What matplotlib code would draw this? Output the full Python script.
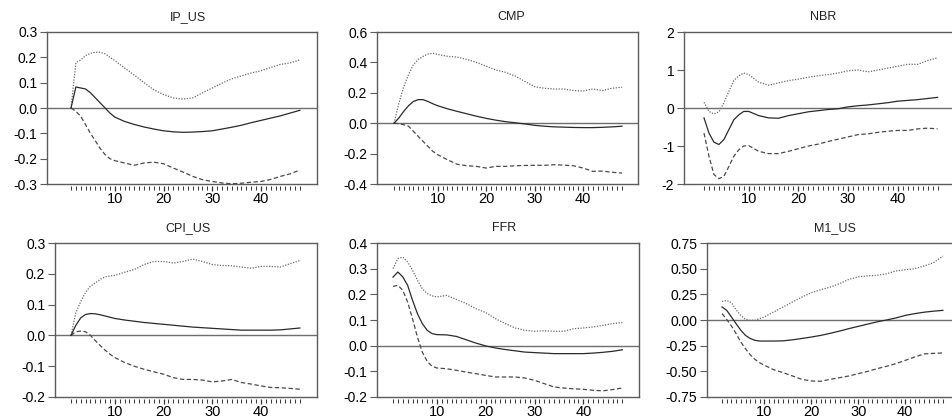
import numpy as np
import matplotlib
matplotlib.use('Agg')
import matplotlib.pyplot as plt
from matplotlib.ticker import FixedLocator

plt.rcParams['font.family'] = ['Liberation Sans', 'DejaVu Sans']
plt.rcParams['font.size'] = 10

# horizon (months) at which the responses were read
periods = [1, 2, 3, 4, 5, 6, 7, 8, 9, 10, 12, 14, 16, 18, 20, 22, 24, 26, 28,
           30, 32, 34, 36, 38, 40, 42, 44, 46, 48]

ip_mid = [0, 0.083, 0.079, 0.075, 0.06, 0.04, 0.02, 0.0, -0.02, -0.036, -0.053, -0.065, -0.075, -0.083,
          -0.09, -0.094, -0.096, -0.095, -0.093, -0.09, -0.083, -0.076, -0.068, -0.058, -0.049, -0.04,
          -0.031, -0.02, -0.009]
ip_up = [0, 0.178, 0.19, 0.207, 0.216, 0.22, 0.22, 0.214, 0.2, 0.187, 0.158, 0.13, 0.1, 0.072, 0.053,
         0.04, 0.035, 0.04, 0.06, 0.079, 0.098, 0.115, 0.127, 0.138, 0.147, 0.16, 0.172, 0.178, 0.19]
ip_lo = [0, -0.013, -0.033, -0.066, -0.1, -0.13, -0.16, -0.184, -0.2, -0.208, -0.217, -0.226, -0.217,
         -0.214, -0.22, -0.237, -0.253, -0.27, -0.283, -0.29, -0.296, -0.299, -0.297, -0.293, -0.29,
         -0.282, -0.27, -0.26, -0.245]

cmp_mid = [0, 0.034, 0.078, 0.115, 0.143, 0.155, 0.155, 0.143, 0.128, 0.115, 0.095, 0.078, 0.062, 0.046,
           0.032, 0.02, 0.01, 0.003, -0.005, -0.014, -0.02, -0.024, -0.026, -0.028, -0.029, -0.029,
           -0.027, -0.024, -0.02]
cmp_up = [0, 0.13, 0.24, 0.32, 0.385, 0.42, 0.44, 0.455, 0.46, 0.453, 0.44, 0.435, 0.42, 0.40, 0.375,
          0.35, 0.335, 0.31, 0.275, 0.24, 0.23, 0.225, 0.225, 0.215, 0.212, 0.225, 0.215, 0.23, 0.237]
cmp_lo = [0, -0.003, -0.01, -0.02, -0.053, -0.087, -0.12, -0.152, -0.185, -0.207, -0.24, -0.27, -0.28,
          -0.284, -0.295, -0.284, -0.284, -0.28, -0.278, -0.277, -0.277, -0.273, -0.276, -0.28, -0.295,
          -0.317, -0.315, -0.323, -0.328]

nbr_mid = [-0.26, -0.66, -0.9, -0.96, -0.83, -0.57, -0.31, -0.18, -0.09, -0.09, -0.2, -0.26, -0.27,
           -0.2, -0.15, -0.1, -0.07, -0.04, -0.02, 0.03, 0.06, 0.08, 0.11, 0.14, 0.18, 0.2, 0.22, 0.25, 0.28]
nbr_up = [0.15, -0.09, -0.16, -0.1, 0.13, 0.44, 0.72, 0.85, 0.92, 0.88, 0.68, 0.6, 0.66, 0.72, 0.76,
          0.81, 0.85, 0.88, 0.92, 0.98, 1.0, 0.95, 1.0, 1.05, 1.1, 1.15, 1.15, 1.25, 1.32]
nbr_lo = [-0.66, -1.27, -1.75, -1.86, -1.8, -1.54, -1.27, -1.1, -1.0, -0.99, -1.14, -1.2, -1.2, -1.14,
          -1.07, -1.0, -0.95, -0.88, -0.82, -0.76, -0.7, -0.68, -0.64, -0.61, -0.59, -0.59, -0.55,
          -0.53, -0.55]

cpi_mid = [0, 0.033, 0.057, 0.068, 0.071, 0.07, 0.067, 0.063, 0.059, 0.055, 0.05, 0.046, 0.042, 0.039,
           0.036, 0.033, 0.03, 0.027, 0.025, 0.023, 0.021, 0.019, 0.017, 0.017, 0.017, 0.017, 0.018,
           0.021, 0.024]
cpi_up = [0, 0.074, 0.11, 0.14, 0.16, 0.17, 0.182, 0.19, 0.193, 0.195, 0.205, 0.214, 0.23, 0.24, 0.24,
          0.235, 0.24, 0.248, 0.24, 0.23, 0.227, 0.226, 0.222, 0.218, 0.224, 0.224, 0.222, 0.233, 0.243]
cpi_lo = [0, 0.012, 0.014, 0.012, 0.0, -0.017, -0.033, -0.048, -0.061, -0.072, -0.088, -0.1, -0.11,
          -0.118, -0.126, -0.137, -0.143, -0.143, -0.145, -0.151, -0.148, -0.143, -0.153, -0.158,
          -0.164, -0.169, -0.17, -0.172, -0.175]

ffr_mid = [0.267, 0.287, 0.268, 0.235, 0.177, 0.125, 0.086, 0.06, 0.047, 0.043, 0.042, 0.036, 0.023,
           0.01, -0.001, -0.009, -0.015, -0.02, -0.025, -0.027, -0.029, -0.031, -0.031, -0.031, -0.031,
           -0.029, -0.026, -0.022, -0.016]
ffr_up = [0.3, 0.339, 0.345, 0.326, 0.294, 0.255, 0.222, 0.203, 0.194, 0.19, 0.196, 0.18, 0.164, 0.144,
          0.129, 0.105, 0.086, 0.069, 0.06, 0.056, 0.058, 0.056, 0.056, 0.066, 0.069, 0.073, 0.079,
          0.086, 0.09]
ffr_lo = [0.231, 0.235, 0.216, 0.17, 0.105, 0.034, -0.025, -0.061, -0.08, -0.087, -0.09, -0.096,
          -0.103, -0.109, -0.116, -0.122, -0.122, -0.122, -0.126, -0.135, -0.148, -0.161, -0.165,
          -0.168, -0.17, -0.174, -0.176, -0.171, -0.165]

m1_mid = [0.127, 0.094, 0.03, -0.036, -0.1, -0.15, -0.18, -0.198, -0.205, -0.205, -0.205, -0.203,
          -0.193, -0.18, -0.166, -0.15, -0.13, -0.108, -0.084, -0.062, -0.04, -0.018, 0.0, 0.02,
          0.045, 0.062, 0.076, 0.086, 0.094]
m1_up = [0.18, 0.19, 0.17, 0.1, 0.045, 0.006, -0.003, -0.003, 0.013, 0.03, 0.078, 0.127, 0.175, 0.224,
         0.266, 0.295, 0.32, 0.354, 0.396, 0.42, 0.43, 0.435, 0.45, 0.477, 0.49, 0.5, 0.526, 0.558, 0.623]
m1_lo = [0.062, 0.006, -0.058, -0.133, -0.214, -0.28, -0.338, -0.383, -0.416, -0.44, -0.484, -0.513,
         -0.545, -0.578, -0.594, -0.597, -0.578, -0.562, -0.545, -0.523, -0.5, -0.474, -0.451, -0.425,
         -0.393, -0.36, -0.33, -0.325, -0.321]

titles = ['IP_US', 'CMP', 'NBR', 'CPI_US', 'FFR', 'M1_US']
series = [(ip_mid, ip_up, ip_lo), (cmp_mid, cmp_up, cmp_lo), (nbr_mid, nbr_up, nbr_lo),
          (cpi_mid, cpi_up, cpi_lo), (ffr_mid, ffr_up, ffr_lo), (m1_mid, m1_up, m1_lo)]
y_ranges = [(-0.3, 0.3, 0.1, '%.1f'), (-0.4, 0.6, 0.2, '%.1f'), (-2, 2, 1, '%d'),
            (-0.2, 0.3, 0.1, '%.1f'), (-0.2, 0.4, 0.1, '%.1f'), (-0.75, 0.75, 0.25, '%.2f')]

# panel boxes in pixels: left, right, top, bottom, pixel of period 1, pixels per period
W, H = 952, 418
boxes = [(47, 317, 32, 184, 71, 4.87), (377, 638, 32, 184, 394, 4.85), (684, 965, 32, 184, 704, 4.97),
         (55, 317, 243, 397, 71, 4.87), (377, 639, 243, 397, 393, 4.88), (707, 965, 243, 397, 722, 4.7)]
title_pos = [(188, 17), (511, 17), (823, 17), (188, 228), (504, 228), (835, 228)]

FRAME = '#5c5c5c'


def draw_panel(fig, box, title_xy, title, data, yr):
    """1枚のインパルス応答パネルを描く"""
    left, right, top, bottom, x1, ppu = box
    ax = fig.add_axes([left / W, 1 - bottom / H, (right - left) / W, (bottom - top) / H])
    ax.set_xlim(1 - (x1 - left) / ppu, 1 + (right - x1) / ppu)
    ylo, yhi, step, fmt = yr
    ax.set_ylim(ylo, yhi)

    mid, up, lo = data
    ax.axhline(0, color='#6e6e6e', lw=1.0, zorder=1)
    ax.plot(periods, up, color='#6a6a6a', lw=0.9, linestyle=(0, (1, 1.2)))
    ax.plot(periods, lo, color='#4a4a4a', lw=0.9, linestyle=(0, (3.5, 2)))
    ax.plot(periods, mid, color='#2a2a2a', lw=0.9)

    for s in ['top', 'left', 'right']:
        ax.spines[s].set_color(FRAME)
        ax.spines[s].set_linewidth(1.0)
    ax.spines['bottom'].set_position(('outward', 1.2))
    ax.spines['bottom'].set_visible(False)
    ax.axhline(ylo, color=FRAME, lw=1.0, clip_on=False)

    ax.xaxis.set_major_locator(FixedLocator([10, 20, 30, 40]))
    ax.xaxis.set_minor_locator(FixedLocator(list(range(1, 49))))
    ax.tick_params(axis='x', which='major', length=3.8, width=0.9, color='#333333',
                   labelsize=10.5, pad=0.5)
    ax.tick_params(axis='x', which='minor', length=2.6, width=0.75, color='#3c3c3c')

    yt = np.arange(ylo, yhi + step / 2, step)
    ax.set_yticks(yt)
    ax.set_yticklabels([fmt % v for v in yt])
    ax.tick_params(axis='y', length=5, width=0.8, color=FRAME, labelsize=10, pad=2)

    fig.text(title_xy[0] / W, 1 - title_xy[1] / H, title, ha='center', va='center',
             fontsize=9, color='#222222')
    return ax


fig = plt.figure(figsize=(W / 100, H / 100), dpi=100, facecolor='white')
for box, tp, title, data, yr in zip(boxes, title_pos, titles, series, y_ranges):
    draw_panel(fig, box, tp, title, data, yr)

fig.savefig('out.png', dpi=100)
